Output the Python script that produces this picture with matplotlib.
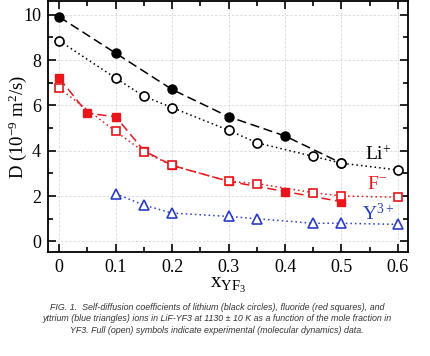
import matplotlib
matplotlib.use("Agg")
import matplotlib.pyplot as plt
from matplotlib.ticker import MultipleLocator

li_exp_x = [0.0, 0.1, 0.2, 0.3, 0.4, 0.5]
li_exp_y = [9.9, 8.3, 6.7, 5.5, 4.65, 3.45]
li_md_x = [0.0, 0.1, 0.15, 0.2, 0.3, 0.35, 0.45, 0.5, 0.6]
li_md_y = [8.85, 7.2, 6.4, 5.9, 4.9, 4.35, 3.75, 3.45, 3.15]

f_exp_x = [0.0, 0.05, 0.1, 0.15, 0.2, 0.3, 0.4, 0.5]
f_exp_y = [7.2, 5.65, 5.5, 4.0, 3.35, 2.65, 2.2, 1.75]
f_md_x = [0.0, 0.1, 0.15, 0.2, 0.3, 0.35, 0.45, 0.5, 0.6]
f_md_y = [6.75, 4.85, 3.95, 3.35, 2.65, 2.55, 2.15, 2.0, 1.95]

y_md_x = [0.1, 0.15, 0.2, 0.3, 0.35, 0.45, 0.5, 0.6]
y_md_y = [2.1, 1.6, 1.25, 1.1, 1.0, 0.8, 0.8, 0.75]

xticks = [0, 0.1, 0.2, 0.3, 0.4, 0.5, 0.6]
xticklabels = ["0", "0.1", "0.2", "0.3", "0.4", "0.5", "0.6"]
yticks = [0, 2, 4, 6, 8, 10]

RED = "#e8161b"
BLUE = "#2a3cc8"
serif = "Liberation Serif"

plt.rcParams["mathtext.fontset"] = "custom"
plt.rcParams["mathtext.rm"] = serif
plt.rcParams["mathtext.it"] = serif + ":italic"
plt.rcParams["mathtext.bf"] = serif + ":bold"

fig = plt.figure(figsize=(4.30, 3.56), dpi=100)
ax = fig.add_axes([0.1116, 0.292, 0.8374, 0.705])

ax.grid(True, color="#d8d8d8", linestyle=(0, (3, 2)), linewidth=0.6)
ax.set_axisbelow(True)

ax.plot(li_exp_x, li_exp_y, color="black", linestyle=(0, (6, 3)), lw=1.1,
        marker="o", ms=6.5, mfc="black", mec="black", zorder=3)
ax.plot(li_md_x, li_md_y, color="black", linestyle=(0, (1, 2)), lw=1.1,
        marker="o", ms=6.5, mfc="white", mec="black", mew=1.2, zorder=4)

ax.plot(f_exp_x, f_exp_y, color=RED, linestyle=(0, (6, 3)), lw=1.1,
        marker="s", ms=6, mfc=RED, mec=RED, zorder=3)
ax.plot(f_md_x, f_md_y, color=RED, linestyle=(0, (1, 2)), lw=1.1,
        marker="s", ms=6, mfc="white", mec=RED, mew=1.2, zorder=4)

ax.plot(y_md_x, y_md_y, color=BLUE, linestyle=(0, (1, 2)), lw=1.1,
        marker="^", ms=7, mfc="white", mec=BLUE, mew=1.2, zorder=4)

ax.text(0.541, 3.6, r"Li$^{+}$", fontsize=14, family=serif, color="black")
ax.text(0.546, 2.3, r"F$^{-}$", fontsize=14, family=serif, color=RED)
ax.text(0.537, 0.95, r"Y$^{3+}$", fontsize=14, family=serif, color=BLUE)

ax.set_xlim(-0.02, 0.618)
ax.set_ylim(-0.47, 10.6)
ax.set_xticks(xticks)
ax.set_xticklabels(xticklabels)
ax.set_yticks(yticks)
ax.xaxis.set_minor_locator(MultipleLocator(0.05))
ax.yaxis.set_minor_locator(MultipleLocator(1))
ax.tick_params(which="both", direction="in", top=True, right=True, width=1.2)
ax.tick_params(which="major", length=6, labelsize=13, pad=5)
ax.tick_params(which="minor", length=3.5)
for lab in ax.get_xticklabels() + ax.get_yticklabels():
    lab.set_family(serif)
for s in ax.spines.values():
    s.set_linewidth(1.3)

ax.set_ylabel(r"D (10$^{-9}$ m$^{2}$/s)", fontsize=13.5, family=serif)
ax.yaxis.set_label_coords(-0.052, 0.5)
ax.set_xlabel(r"x$_{\mathrm{YF}_3}$", fontsize=15, family=serif, labelpad=0)

caption = ("FIG. 1.  Self-diffusion coefficients of lithium (black circles), fluoride (red squares), and\n"
           "yttrium (blue triangles) ions in LiF-YF3 at 1130 \u00b1 10 K as a function of the mole fraction in\n"
           "YF3. Full (open) symbols indicate experimental (molecular dynamics) data.")
fig.text(0.505, 0.104, caption, ha="center", va="center", fontsize=6.4,
         family="Liberation Sans", style="italic", color="#333333", linespacing=1.3)

fig.savefig("out.png", dpi=100)
